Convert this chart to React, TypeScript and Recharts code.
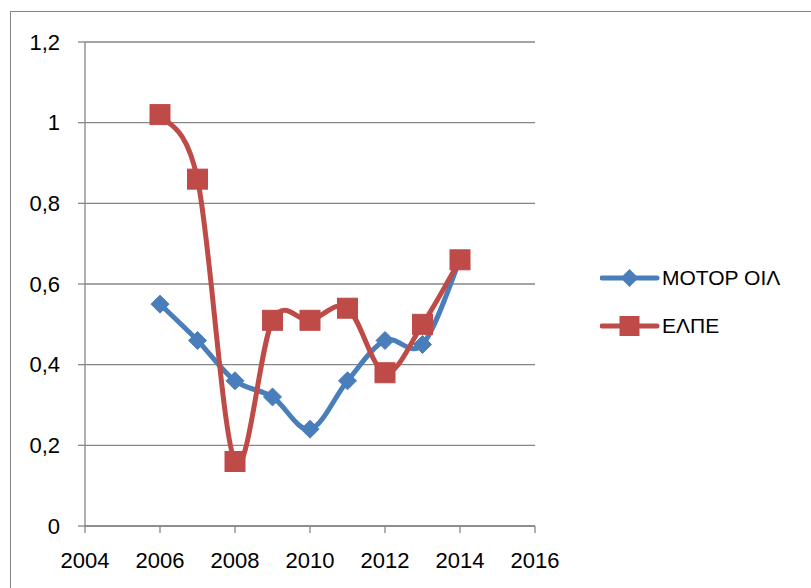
import React from 'react'
import { LineChart, Line, XAxis, YAxis, CartesianGrid } from 'recharts'

const years = [2006, 2007, 2008, 2009, 2010, 2011, 2012, 2013, 2014]
const motorOil = [0.55, 0.46, 0.36, 0.32, 0.24, 0.36, 0.46, 0.45, 0.66]
const elpe = [1.02, 0.86, 0.16, 0.51, 0.51, 0.54, 0.38, 0.5, 0.66]
const xTicks = [2004, 2006, 2008, 2010, 2012, 2014, 2016]
const yTicks = [0, 0.2, 0.4, 0.6, 0.8, 1, 1.2]

const BLUE = '#4A7EBB'
const RED = '#BE4B48'
const AXIS = '#868686'
const FONT = '"Liberation Sans", Arial, sans-serif'

const data = years.map((year, i) => ({ year, motor: motorOil[i], elpe: elpe[i] }))

// Excel-like smoothed line (Catmull-Rom through each point)
const excelCurve = (context: any) => {
  let pts: number[][] = []
  return {
    areaStart() {},
    areaEnd() {},
    lineStart() {
      pts = []
    },
    point(x: number, y: number) {
      pts.push([+x, +y])
    },
    lineEnd() {
      if (!pts.length) return
      context.moveTo(pts[0][0], pts[0][1])
      for (let i = 0; i < pts.length - 1; i++) {
        const p0 = pts[i - 1] || pts[i]
        const p1 = pts[i]
        const p2 = pts[i + 1]
        const p3 = pts[i + 2] || pts[i + 1]
        context.bezierCurveTo(
          p1[0] + (p2[0] - p0[0]) / 6,
          p1[1] + (p2[1] - p0[1]) / 6,
          p2[0] - (p3[0] - p1[0]) / 6,
          p2[1] - (p3[1] - p1[1]) / 6,
          p2[0],
          p2[1]
        )
      }
    },
  }
}

const Diamond = ({ cx, cy }: any) => {
  if (cx == null || cy == null) return null
  const r = 9
  return (
    <path
      d={`M${cx},${cy - r}L${cx + r},${cy}L${cx},${cy + r}L${cx - r},${cy}Z`}
      fill={BLUE}
      stroke={BLUE}
      strokeWidth={1}
    />
  )
}

const Square = ({ cx, cy }: any) => {
  if (cx == null || cy == null) return null
  const s = 10
  return <rect x={cx - s} y={cy - s} width={s * 2} height={s * 2} fill={RED} stroke={RED} strokeWidth={1} />
}

const legendItems = [
  { name: 'ΜΟΤΟΡ ΟΙΛ', color: BLUE, marker: 'diamond' },
  { name: 'ΕΛΠΕ', color: RED, marker: 'square' },
]

const LegendBox = () => (
  <div style={{ position: 'absolute', left: 600, top: 254, fontFamily: FONT, fontSize: 21, color: '#000' }}>
    {legendItems.map((item) => (
      <div key={item.name} style={{ display: 'flex', alignItems: 'center', height: 48 }}>
        <svg width={60} height={24}>
          <line x1={2} y1={12} x2={57} y2={12} stroke={item.color} strokeWidth={5} strokeLinecap="round" />
          {item.marker === 'diamond' ? (
            <path d="M29.5,3L38.5,12L29.5,21L20.5,12Z" fill={item.color} />
          ) : (
            <rect x={19.5} y={2} width={20} height={20} fill={item.color} />
          )}
        </svg>
        <span style={{ marginLeft: 2 }}>{item.name}</span>
      </div>
    ))}
  </div>
)

const fmt = (v: number) => String(v).replace('.', ',')

export default function App() {
  return (
    <div style={{ position: 'fixed', left: 0, top: 0, width: 811, height: 588, overflow: 'hidden', background: '#fff' }}>
      <div
        style={{
          position: 'absolute',
          left: 10,
          top: 11,
          width: 900,
          height: 700,
          border: `1.5px solid ${AXIS}`,
          boxSizing: 'border-box',
        }}
      />
      <LineChart width={811} height={588} data={data} margin={{ top: 42, right: 276, bottom: 0, left: 0 }}>
        <CartesianGrid horizontal vertical={false} stroke={AXIS} strokeWidth={1.3} />
        <XAxis
          dataKey="year"
          type="number"
          domain={[2004, 2016]}
          ticks={xTicks}
          height={62}
          tickSize={7}
          tickMargin={19}
          stroke={AXIS}
          strokeWidth={1.3}
          tick={{ fill: '#000', fontSize: 22, fontFamily: FONT }}
          interval={0}
        />
        <YAxis
          type="number"
          domain={[0, 1.2]}
          ticks={yTicks}
          width={85}
          tickSize={7}
          tickMargin={18}
          stroke={AXIS}
          strokeWidth={1.3}
          tickFormatter={fmt}
          tick={{ fill: '#000', fontSize: 22, fontFamily: FONT }}
          interval={0}
        />
        <Line
          dataKey="motor"
          name="ΜΟΤΟΡ ΟΙΛ"
          type={excelCurve as any}
          stroke={BLUE}
          strokeWidth={5}
          dot={<Diamond />}
          activeDot={false}
          isAnimationActive={false}
        />
        <Line
          dataKey="elpe"
          name="ΕΛΠΕ"
          type={excelCurve as any}
          stroke={RED}
          strokeWidth={5}
          dot={<Square />}
          activeDot={false}
          isAnimationActive={false}
        />
      </LineChart>
      <LegendBox />
    </div>
  )
}
